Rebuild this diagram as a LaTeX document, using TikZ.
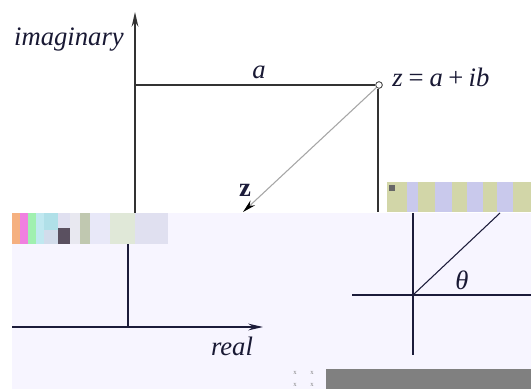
\documentclass[tikz,border=0pt]{standalone}
\usepackage{fontspec}
\setmainfont{Liberation Serif}
\usetikzlibrary{arrows.meta}
\definecolor{lav}{HTML}{F7F5FF}
\definecolor{ink}{HTML}{1C1C3A}
\definecolor{khaki}{HTML}{D2D6A8}
\definecolor{lavb}{HTML}{C9C9EC}
\definecolor{midgray}{HTML}{808080}
\definecolor{g1}{RGB}{245,176,128}
\definecolor{g2}{RGB}{240,128,224}
\definecolor{g3}{RGB}{160,240,176}
\definecolor{g4}{RGB}{192,232,240}
\definecolor{g5}{RGB}{176,224,232}
\definecolor{g6}{RGB}{210,220,235}
\definecolor{g7}{RGB}{224,224,240}
\definecolor{g8}{RGB}{90,80,96}
\definecolor{g9}{RGB}{232,232,240}
\definecolor{g10}{RGB}{192,200,176}
\definecolor{g11}{RGB}{232,232,248}
\definecolor{g12}{RGB}{224,232,216}
\tikzset{
  axis/.style={draw=ink, line width=1.1pt},
  lbl/.style={font=\fontsize{20}{22}\selectfont\itshape, text=ink!90!black, inner sep=0pt},
  tip/.style={-{Stealth[length=11pt,width=5pt]}},
}
\begin{document}
\begin{tikzpicture}[x=0.75pt,y=-0.75pt]
\useasboundingbox (0,0) rectangle (531,389);
\fill[white] (0,0) rectangle (531,389);
% lower displaced region
\fill[lav] (12,213) rectangle (531,389);
\fill[midgray] (326,369) rectangle (531,389);
% top part
\coordinate (o) at (135,213);
\coordinate (ytip) at (135,12);
\draw[axis, draw=black!80, tip] (o) -- (ytip);
\node[lbl, anchor=base east] (imag) at (124,45) {imaginary};
\node[draw=black!80, fill=white, circle, inner sep=0pt, minimum size=5pt, line width=0.6pt] (z) at (379,85) {};
\coordinate (hl) at (135,85);
\draw[black!80, line width=1pt] (hl) -- (z.west);
\node[lbl] (alab) at (259,72) {a};
\node[lbl, anchor=base west] (zeq) at (392,86) {z\hspace{4.5pt}{\upshape =}\hspace{4.5pt}a\hspace{4pt}{\upshape +}\hspace{4pt}ib};
\coordinate (vb) at (378,212);
\draw[axis, draw=black!80] (z.south) ++(-1,0) -- (vb);
\coordinate (zt) at (243,212);
\draw[gray!70, line width=0.8pt, -{Stealth[length=10pt,width=5pt,black]}] (z.south west) -- (zt);
\node[font=\fontsize{20}{22}\selectfont\bfseries, text=ink, inner sep=0pt] (zb) at (245,190) {z};
% right glitch band
\fill[khaki] (387,182) rectangle (531,212);
\foreach \a/\b in {407/418,435/452,467/483,497/513}{\fill[lavb] (\a,182) rectangle (\b,212);}
\fill[black!60] (389,185) rectangle (395,191);
% left glitch band
\fill[g1] (12,213) rectangle (20,244);
\fill[g2] (20,213) rectangle (28,244);
\fill[g3] (28,213) rectangle (36,244);
\fill[g4] (36,213) rectangle (44,244);
\fill[g5] (44,213) rectangle (58,230);
\fill[g6] (44,230) rectangle (58,244);
\fill[g7] (58,213) rectangle (70,228);
\fill[g8] (58,228) rectangle (70,244);
\fill[g9] (70,213) rectangle (80,244);
\fill[g10] (80,213) rectangle (90,244);
\fill[g11] (90,213) rectangle (110,244);
\fill[g12] (110,213) rectangle (135,244);
\fill[g7] (135,213) rectangle (168,244);
% lower left
\coordinate (lv1) at (128,244);
\coordinate (lv2) at (128,327);
\draw[axis] (lv1) -- (lv2);
\coordinate (xl) at (12,327);
\coordinate (xt) at (263,327);
\draw[axis, tip] (xl) -- (xt);
\node[lbl, anchor=base] (real) at (232,355) {real};
% lower right
\coordinate (rv1) at (413,213);
\coordinate (rv2) at (413,355);
\draw[axis] (rv1) -- (rv2);
\coordinate (rh1) at (352,295);
\coordinate (rh2) at (531,295);
\draw[axis] (rh1) -- (rh2);
\coordinate (rd) at (500,213);
\draw[ink, line width=0.8pt] (413,295) -- (rd);
\node[lbl] (theta) at (462,280) {θ};
% tiny marks
\foreach \x in {295,312}{\foreach \y in {373,385}{\node[font=\tiny, text=gray, inner sep=0pt] at (\x,\y) {x};}}
\end{tikzpicture}
\end{document}
